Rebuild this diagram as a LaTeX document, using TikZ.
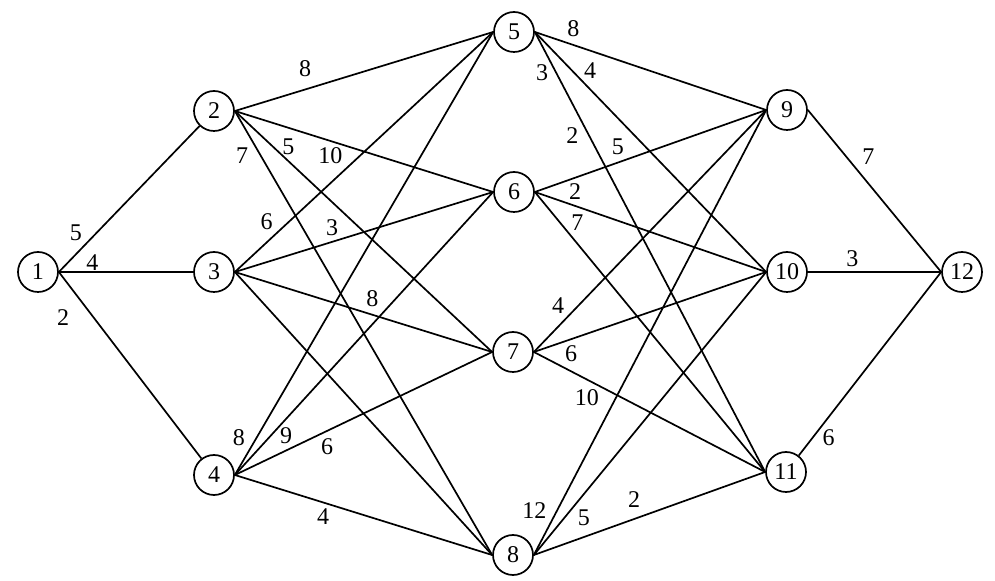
\documentclass[tikz,border=0pt]{standalone}
\usepackage{fontspec}
\setmainfont{Liberation Serif}
\begin{document}
\begin{tikzpicture}[x=0.5pt,y=-0.5pt,line width=0.85pt,
  vertex/.style={circle,draw,minimum size=20pt,inner sep=0pt,font=\fontsize{12}{14}\selectfont},
  weight/.style={font=\fontsize{12}{14}\selectfont,inner sep=0pt}]
\useasboundingbox (0,0) rectangle (995,581);
% vertices
\foreach \n/\x/\y in {1/38/272, 2/214/111, 3/214/272, 4/214/475,
  5/514/32, 6/514/192, 7/513/352, 8/513/555,
  9/787/110, 10/787/272, 11/786/472, 12/962/272}
{
\node[vertex] (v\n) at (\x,\y) {\n};
}
% source and sink
\draw (v1.east) -- (v2)       node[weight,pos=0.2,shift={(-11,-10)}] {5};
\draw (v1.east) -- (v3.west)  node[weight,pos=0.25,shift={(0,-9)}] {4};
\draw (v1.east) -- (v4)       node[weight,pos=0.17,shift={(-20,14)}] {2};
\draw (v9.east) -- (v12.west)  node[weight,pos=0.356,shift={(13,-11)}] {7};
\draw (v10.east) -- (v12.west) node[weight,pos=0.333,shift={(0,-13)}] {3};
\draw (v11) -- (v12.west)      node[weight,pos=0.14,shift={(10,8)}] {6};
% middle layers
\foreach \a/\b/\w/\p/\dx/\dy in {2/5/8/0.28/-2/-20, 2/6/10/0.385/-4/13,
  2/7/5/0.181/7/-8, 2/8/7/0.083/-14/8, 3/5/6/0.162/-10/-11,
  3/6/3/0.392/-4/-13, 3/7/8/0.515/5/-15, 4/5/8/0.066/-13/-8,
  4/6/9/0.168/8/8, 4/7/6/0.335/6/13, 4/8/4/0.359/-4/13,
  5/9/8/0.145/5/-15, 5/10/4/0.2/9/-9, 5/11/3/0.079/-11/6,
  6/9/5/0.381/-5/-14, 6/10/2/0.157/4/-13, 6/11/7/0.141/10/-9,
  7/9/4/0.152/-11/-10, 7/10/6/0.139/5/13, 7/11/10/0.264/-8/14,
  8/9/12/0.08/-18/-9, 8/10/5/0.164/12/9, 8/11/2/0.459/-6/-17}
{
\draw (v\a.east) -- (v\b.west) node[weight,pos=\p,shift={(\dx,\dy)}] {\w};
}
\draw (v3.east) -- (v8.west);
\path (v5.east) -- (v11.west) node[weight,pos=0.219,shift={(-13,7)}] {2};
\end{tikzpicture}
\end{document}
